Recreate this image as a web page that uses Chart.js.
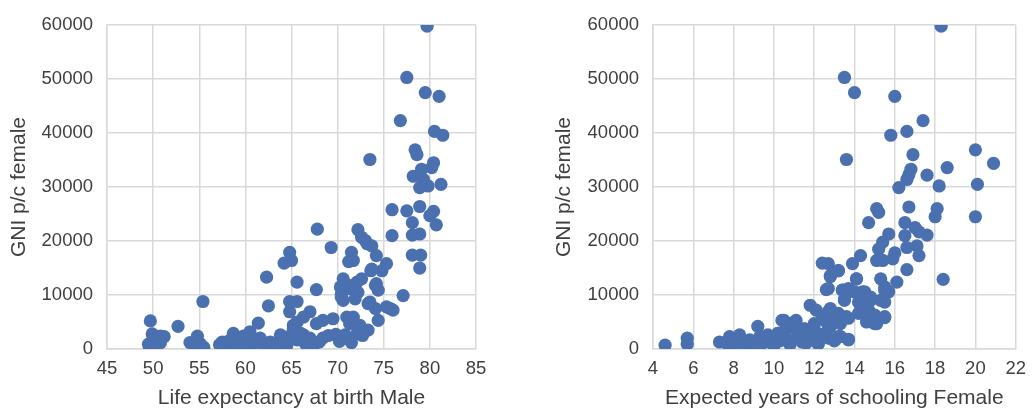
<!DOCTYPE html>
<html>
<head>
<meta charset="utf-8">
<script src="https://cdn.jsdelivr.net/npm/chart.js@4"></script>
<style>
  body { margin: 0; background: #fff; }
  #wrap { position: relative; width: 1035px; height: 411px; }
  #lifeChart { position: absolute; left: 0; top: 0; }
  #schoolChart { position: absolute; left: 540px; top: 0; }
</style>
</head>
<body>
<div id="wrap">
  <canvas id="lifeChart" width="500" height="411"></canvas>
  <canvas id="schoolChart" width="495" height="411"></canvas>
</div>
<script>
// life expectancy at birth (male) vs GNI per capita (female)
const lifeMale = [
  79.7, 77.5, 79.5, 81.0, 76.8, 80.5, 81.4, 73.5, 78.4, 78.6, 80.4, 79.1, 80.2, 78.2, 79.3, 78.9, 79.8, 81.2,
  75.9, 77.5, 78.9, 80.4, 80.0, 80.7, 78.1, 75.9, 78.1, 78.9, 78.1, 79.0, 78.9, 67.8, 69.3, 72.2, 72.6, 73.2,
  73.7, 71.5, 71.2, 74.2, 75.3, 74.8, 73.6, 64.8, 65.0, 64.2, 65.6, 67.7, 64.8, 65.6, 70.6, 71.2, 70.4, 72.1,
  72.6, 72.2, 71.9, 70.6, 74.2, 74.4, 77.1, 73.5, 74.1, 74.4, 75.7, 76.0, 71.0, 71.7, 71.3, 72.4, 73.3, 70.8,
  71.2, 72.1, 68.4, 69.5, 68.4, 67.7, 67.0, 66.3, 65.6, 65.2, 66.3, 67.0, 65.6, 64.8, 65.0, 49.7, 49.9, 50.8,
  51.2, 49.5, 50.8, 52.7, 55.4, 54.0, 54.8, 55.1, 57.5, 58.7, 58.0, 59.5, 60.5, 61.4, 60.2, 62.3, 62.5, 65.2,
  61.6, 62.7, 63.8, 64.2, 65.2, 66.0, 71.0, 70.3, 71.3, 70.4, 71.7, 73.0, 73.7, 74.1, 73.3, 75.3, 57.2, 58.3,
  59.0, 59.8, 60.8, 61.0, 62.0, 63.0, 63.5, 64.5, 66.5, 67.5, 68.0, 69.0, 69.8, 70.2, 71.5, 72.7, 60.0, 49.6,
  50.3, 54.5, 55.5
];
const gniByLife = [
  59800, 50300, 47500, 46800, 42300, 40300, 39600, 35100, 36900, 36000, 34500, 33300, 33600, 32000, 31400, 29900, 30200, 30500,
  25800, 25600, 26400, 25500, 24700, 23000, 23400, 21000, 21100, 21300, 17400, 17400, 15000, 22200, 18800, 22100, 20700, 19500,
  19100, 17900, 16200, 17300, 15800, 14500, 14500, 17900, 16400, 15900, 12400, 11000, 8800, 8800, 13000, 11800, 10200, 12400,
  13000, 10500, 9300, 9000, 12100, 10900, 9900, 8700, 7500, 5300, 7500, 7200, 5900, 5900, 4700, 4400, 3500, 2600,
  2000, 2900, 2000, 5600, 5300, 4700, 6900, 5900, 5000, 3800, 2600, 2000, 1700, 6900, 2600, 5200, 2800, 2400,
  2300, 900, 1200, 4200, 8800, 1200, 2400, 1000, 1300, 2900, 1000, 1300, 3200, 4800, 2000, 13300, 8000, 4400,
  2000, 1300, 2600, 1300, 2000, 2900, 2000, 11500, 11200, 9600, 16400, 20100, 14800, 11800, 8400, 7800, 800, 1600,
  700, 2400, 900, 1600, 600, 900, 500, 700, 1000, 900, 1300, 2500, 2700, 1400, 1200, 2500, 300, 200,
  500, 300, 300
];

// expected years of schooling (female) vs GNI per capita (female)
const schoolFemale = [
  18.3, 13.5, 14.0, 16.0, 17.4, 16.6, 15.8, 13.6, 16.9, 20.0, 20.9, 18.6, 16.8, 16.7, 16.6, 17.6, 18.2, 20.1,
  16.2, 15.1, 15.2, 16.7, 18.1, 18.0, 20.0, 14.7, 16.5, 17.0, 17.6, 17.2, 15.7, 15.4, 15.2, 15.1, 15.4, 16.5,
  16.6, 17.1, 17.2, 16.0, 15.9, 16.6, 18.4, 14.3, 13.9, 13.2, 14.1, 15.3, 15.5, 16.1, 15.7, 15.5, 12.7, 12.8,
  12.7, 13.4, 13.7, 13.5, 14.4, 14.6, 14.8, 14.3, 14.7, 14.2, 14.6, 15.1, 15.5, 12.8, 12.9, 13.3, 13.6, 12.7,
  13.2, 13.7, 4.6, 5.7, 5.7, 7.3, 7.8, 8.3, 7.7, 9.2, 8.8, 9.3, 9.7, 10.2, 9.9, 10.5, 11.1, 10.6,
  11.1, 11.5, 10.7, 11.4, 11.9, 12.2, 12.7, 11.8, 12.1, 12.0, 12.4, 12.4, 12.8, 13.2, 12.6, 12.8, 12.7, 12.8,
  13.3, 10.4, 11.0, 10.2, 11.4, 12.0, 12.6, 13.3, 13.7, 13.4, 13.5, 13.7, 14.1, 14.0, 14.2, 14.5, 14.8, 14.6,
  15.0, 14.6, 15.0, 15.5, 15.3, 15.5, 13.2, 12.7, 12.5, 12.9, 13.7, 8.0, 8.5, 9.0, 9.5, 10.0, 10.3, 10.8,
  11.2, 11.6, 12.2, 12.4, 13.0, 9.2
];
const gniBySchool = [
  59800, 50300, 47500, 46800, 42300, 40300, 39600, 35100, 36000, 36900, 34400, 33600, 33300, 32300, 31400, 32200, 30200, 30500,
  29900, 26000, 25300, 26300, 26000, 24500, 24500, 23400, 23400, 22500, 21100, 21700, 21300, 19800, 18500, 16400, 16400, 21000,
  18800, 19100, 17300, 17800, 16700, 14700, 12900, 17300, 15800, 14500, 13000, 13000, 11500, 12400, 10600, 8700, 15800, 13600,
  11200, 10900, 10600, 9000, 10600, 9900, 9000, 8100, 7200, 6600, 5000, 4700, 5800, 7500, 5700, 4700, 6000, 4400,
  2300, 1800, 700, 2000, 900, 1300, 2300, 2600, 900, 4200, 1700, 2300, 2600, 2900, 1300, 5300, 5300, 3800,
  3500, 3800, 1700, 1300, 2300, 1300, 2000, 8100, 7200, 4700, 6000, 15900, 13400, 14500, 11000, 7200, 5300, 4100,
  2300, 5300, 5000, 2900, 2300, 3800, 2300, 2300, 1700, 10900, 9300, 11200, 13000, 10600, 8700, 10600, 9600, 7800,
  6300, 5700, 4700, 6000, 9000, 10900, 6600, 6900, 5300, 5000, 5700, 1000, 700, 900, 1200, 600, 1500, 800,
  2100, 1100, 900, 2700, 1500, 400
];

const yTicksMax = 60000;
const yStep = 10000;

const textColor = '#404040';
const gridColor = '#d9d9d9';
const dotColor = '#4a70b0';
const fontFamily = 'Liberation Sans, Arial, sans-serif';

function makeScatter(id, xs, ys, xMin, xMax, xStep, xTitle, yWidth, yTitlePad, rightPad) {
  const points = xs.map((x, i) => ({ x: x, y: ys[i] }));
  return new Chart(document.getElementById(id), {
    type: 'scatter',
    data: {
      datasets: [{
        data: points,
        backgroundColor: dotColor,
        borderWidth: 0,
        pointRadius: 6.6,
        clip: 0
      }]
    },
    options: {
      responsive: false,
      animation: false,
      layout: { padding: { top: 23, right: rightPad, bottom: 0, left: 0 } },
      plugins: { legend: { display: false }, tooltip: { enabled: false } },
      scales: {
        x: {
          type: 'linear',
          min: xMin,
          max: xMax,
          ticks: {
            stepSize: xStep,
            padding: 9,
            color: textColor,
            font: { family: fontFamily, size: 18.5 },
            callback: v => String(v)
          },
          grid: { color: gridColor, lineWidth: 1.5, drawTicks: false },
          border: { color: gridColor, width: 1.5 },
          title: {
            display: true,
            text: xTitle,
            color: textColor,
            padding: { top: 0, bottom: 0 },
            font: { family: fontFamily, size: 21 }
          },
          afterFit: s => { s.height = 62; }
        },
        y: {
          min: 0,
          max: yTicksMax,
          ticks: {
            stepSize: yStep,
            padding: 14,
            color: textColor,
            font: { family: fontFamily, size: 18.5 },
            callback: v => String(v)
          },
          grid: { color: gridColor, lineWidth: 1.5, drawTicks: false },
          border: { color: gridColor, width: 1.5 },
          title: {
            display: true,
            text: 'GNI p/c female',
            color: textColor,
            padding: { top: yTitlePad, bottom: 0 },
            font: { family: fontFamily, size: 21 }
          },
          afterFit: s => { s.width = yWidth; }
        }
      }
    }
  });
}

makeScatter('lifeChart', lifeMale, gniByLife, 45, 85, 5, 'Life expectancy at birth Male', 107, 7, 24);
makeScatter('schoolChart', schoolFemale, gniBySchool, 4, 22, 2, 'Expected years of schooling Female', 113, 12, 15);
</script>
</body>
</html>
